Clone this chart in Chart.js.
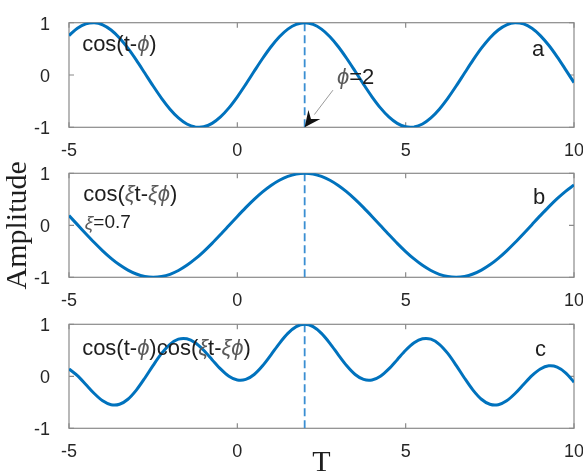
<!DOCTYPE html>
<html><head><meta charset="utf-8">
<script src="https://cdn.jsdelivr.net/npm/chart.js@4.4.1/dist/chart.umd.min.js"></script>
<style>
html,body{margin:0;padding:0;background:#fff;}
#wrap{position:relative;width:583px;height:473px;overflow:hidden;background:#fff;}
canvas{position:absolute;left:0;top:0;}
</style></head><body>
<div id="wrap">
<canvas id="ca" width="583" height="473"></canvas>
<canvas id="cb" width="583" height="473"></canvas>
<canvas id="cc" width="583" height="473"></canvas>
</div>
<script>
// ---- data ----
const tValues = [-5,-4.75,-4.5,-4.25,-4,-3.75,-3.5,-3.25,-3,-2.75,-2.5,-2.25,-2,-1.75,-1.5,-1.25,-1,-0.75,-0.5,-0.25,0,0.25,0.5,0.75,1,1.25,1.5,1.75,2,2.25,2.5,2.75,3,3.25,3.5,3.75,4,4.25,4.5,4.75,5,5.25,5.5,5.75,6,6.25,6.5,6.75,7,7.25,7.5,7.75,8,8.25,8.5,8.75,9,9.25,9.5,9.75,10];
const seriesA = [0.7539,0.8930,0.9766,0.9994,0.9602,0.8612,0.7087,0.5121,0.2837,0.0376,-0.2108,-0.4461,-0.6536,-0.8206,-0.9365,-0.9941,-0.9900,-0.9243,-0.8011,-0.6282,-0.4161,-0.1782,0.0707,0.3153,0.5403,0.7317,0.8776,0.9689,1.0000,0.9689,0.8776,0.7317,0.5403,0.3153,0.0707,-0.1782,-0.4161,-0.6282,-0.8011,-0.9243,-0.9900,-0.9941,-0.9365,-0.8206,-0.6536,-0.4461,-0.2108,0.0376,0.2837,0.5121,0.7087,0.8612,0.9602,0.9994,0.9766,0.8930,0.7539,0.5679,0.3466,0.1038,-0.1455];
const seriesB = [0.1865,0.0126,-0.1617,-0.3310,-0.4903,-0.6346,-0.7594,-0.8611,-0.9365,-0.9832,-1.0000,-0.9862,-0.9422,-0.8695,-0.7702,-0.6474,-0.5048,-0.3468,-0.1782,-0.0042,0.1700,0.3389,0.4976,0.6410,0.7648,0.8653,0.9394,0.9847,1.0000,0.9847,0.9394,0.8653,0.7648,0.6410,0.4976,0.3389,0.1700,-0.0042,-0.1782,-0.3468,-0.5048,-0.6474,-0.7702,-0.8695,-0.9422,-0.9862,-1.0000,-0.9832,-0.9365,-0.8611,-0.7594,-0.6346,-0.4903,-0.3310,-0.1617,0.0126,0.1865,0.3547,0.5121,0.6538,0.7756];
const seriesC = [0.1406,0.0113,-0.1579,-0.3308,-0.4708,-0.5465,-0.5382,-0.4410,-0.2657,-0.0370,0.2108,0.4399,0.6158,0.7135,0.7213,0.6436,0.4998,0.3205,0.1428,0.0026,-0.0707,-0.0604,0.0352,0.2021,0.4132,0.6331,0.8244,0.9541,1.0000,0.9541,0.8244,0.6331,0.4132,0.2021,0.0352,-0.0604,-0.0707,0.0026,0.1428,0.3205,0.4998,0.6436,0.7213,0.7135,0.6158,0.4399,0.2108,-0.0370,-0.2657,-0.4410,-0.5382,-0.5465,-0.4708,-0.3308,-0.1579,0.0113,0.1406,0.2014,0.1775,0.0679,-0.1128];
const xTicks = [-5, 0, 5, 10];
const yTicks = [-1, 0, 1];
const phi = 2;
const phiLineY = [-1, 1];

// ---- styling ----
const SANS = '"Liberation Sans", Arial, sans-serif';
const SERIF = '"Liberation Serif", "Times New Roman", serif';
Chart.defaults.font.family = SANS;
Chart.defaults.animation = false;
const BLUE = '#0072BD';
const FRAME = '#8a8a8a';
const TXT = '#1e1e1e';
const GREEK = '#5a5a5a';

function pts(ys) { return tValues.map((t, i) => ({x: t, y: ys[i]})); }

function drawParts(ctx, x, y, parts, size) {
  let cx = x;
  ctx.textBaseline = 'middle';
  ctx.textAlign = 'left';
  parts.forEach(p => {
    ctx.font = (p.g ? 'italic ' : '') + size + 'px ' + SANS;
    ctx.fillStyle = p.g ? GREEK : TXT;
    ctx.fillText(p.s, cx, y);
    cx += ctx.measureText(p.s).width;
  });
}

function framePlugin(notes, arrow) {
  return {
    id: 'frameNotes',
    beforeDatasetsDraw(chart) {
      const {ctx, chartArea: a, scales: {x, y}} = chart;
      ctx.save();
      ctx.strokeStyle = FRAME; ctx.lineWidth = 1.2;
      ctx.strokeRect(a.left, a.top, a.right - a.left, a.bottom - a.top);
      ctx.beginPath();
      xTicks.forEach(v => {
        const px = x.getPixelForValue(v);
        ctx.moveTo(px, a.top); ctx.lineTo(px, a.top + 5);
        ctx.moveTo(px, a.bottom); ctx.lineTo(px, a.bottom - 5);
      });
      yTicks.forEach(v => {
        const py = y.getPixelForValue(v);
        ctx.moveTo(a.left, py); ctx.lineTo(a.left + 5, py);
        ctx.moveTo(a.right, py); ctx.lineTo(a.right - 5, py);
      });
      ctx.stroke();
      ctx.restore();
    },
    afterDraw(chart) {
      const {ctx, scales: {x, y}} = chart;
      ctx.save();
      notes.forEach(n => drawParts(ctx, x.getPixelForValue(n.x), y.getPixelForValue(n.y), n.parts, n.size));
      if (arrow) {
        const x0 = x.getPixelForValue(arrow.from[0]), y0 = y.getPixelForValue(arrow.from[1]);
        const x1 = x.getPixelForValue(arrow.to[0]), y1 = y.getPixelForValue(arrow.to[1]);
        const ang = Math.atan2(y1 - y0, x1 - x0);
        const L = 16, W = 7.5;
        const bx = x1 - L * Math.cos(ang), by = y1 - L * Math.sin(ang);
        ctx.strokeStyle = '#9a9a9a'; ctx.lineWidth = 1;
        ctx.beginPath(); ctx.moveTo(x0, y0); ctx.lineTo(bx, by); ctx.stroke();
        const nx = -Math.sin(ang), ny = Math.cos(ang);
        const mx = x1 - L * 0.65 * Math.cos(ang), my = y1 - L * 0.65 * Math.sin(ang);
        ctx.fillStyle = '#111';
        ctx.beginPath();
        ctx.moveTo(x1, y1);
        ctx.lineTo(bx + nx * W, by + ny * W);
        ctx.lineTo(mx, my);
        ctx.lineTo(bx - nx * W, by - ny * W);
        ctx.closePath(); ctx.fill();
      }
      ctx.restore();
    }
  };
}

function makeChart(id, series, cfg) {
  return new Chart(document.getElementById(id), {
    type: 'line',
    data: {
      datasets: [
        {data: pts(series), borderColor: BLUE, borderWidth: 3, pointRadius: 0, tension: 0.3, fill: false},
        {data: phiLineY.map(v => ({x: phi, y: v})), borderColor: '#3a8ed2', borderWidth: 1.8, borderDash: [8, 4], pointRadius: 0, fill: false}
      ]
    },
    options: {
      responsive: false,
      devicePixelRatio: 1,
      events: [],
      layout: {padding: cfg.padding},
      plugins: {legend: {display: false}, tooltip: {enabled: false}},
      scales: {
        x: {
          type: 'linear', min: -5, max: 10,
          grid: {display: false}, border: {display: false},
          afterBuildTicks: s => { s.ticks = xTicks.map(v => ({value: v})); },
          afterFit: s => { s.height = cfg.xh; s.paddingLeft = 0; s.paddingRight = 0; },
          ticks: {font: {size: 18}, color: '#262626', padding: 5, maxRotation: 0, autoSkip: false},
          title: cfg.xTitle || {display: false}
        },
        y: {
          type: 'linear', min: -1, max: 1,
          grid: {display: false}, border: {display: false},
          afterBuildTicks: s => { s.ticks = yTicks.map(v => ({value: v})); },
          afterFit: s => { s.width = 69; s.paddingTop = 0; s.paddingBottom = 0; },
          ticks: {font: {size: 18}, color: '#262626', padding: 11, labelOffset: 2},
          title: cfg.yTitle || {display: false}
        }
      }
    },
    plugins: [framePlugin(cfg.notes, cfg.arrow)]
  });
}

makeChart('ca', seriesA, {
  padding: {left: 0, right: 9, top: 22.7, bottom: 305.7},
  xh: 40,
  notes: [
    {x: -4.61, y: 0.57, size: 22, parts: [{s: 'cos(t-'}, {s: 'ϕ', g: true}, {s: ')'}]},
    {x: 8.75, y: 0.48, size: 22, parts: [{s: 'a'}]},
    {x: 2.96, y: -0.06, size: 22, parts: [{s: 'ϕ', g: true}, {s: '=2'}]}
  ],
  arrow: {from: [2.84, -0.29], to: [2, -1]}
});

makeChart('cb', seriesB, {
  padding: {left: 0, right: 9, top: 173.3, bottom: 155.7},
  xh: 40,
  yTitle: {display: true, text: 'Amplitude', color: TXT, font: {family: SERIF, size: 30}, padding: {top: 0, bottom: 0}},
  notes: [
    {x: -4.58, y: 0.58, size: 22, parts: [{s: 'cos('}, {s: 'ξ', g: true}, {s: 't-'}, {s: 'ξϕ', g: true}, {s: ')'}]},
    {x: -4.53, y: 0.04, size: 19, parts: [{s: 'ξ', g: true}, {s: '=0.7'}]},
    {x: 8.78, y: 0.52, size: 22, parts: [{s: 'b'}]}
  ]
});

makeChart('cc', seriesC, {
  padding: {left: 0, right: 9, top: 324.3, bottom: 0},
  xh: 44.7,
  xTitle: {display: true, text: 'T', color: TXT, font: {family: SERIF, size: 30}, padding: {top: 0, bottom: -8}},
  notes: [
    {x: -4.61, y: 0.52, size: 22, parts: [{s: 'cos(t-'}, {s: 'ϕ', g: true}, {s: ')cos('}, {s: 'ξ', g: true}, {s: 't-'}, {s: 'ξϕ', g: true}, {s: ')'}]},
    {x: 8.84, y: 0.5, size: 22, parts: [{s: 'c'}]}
  ]
});
</script>
</body></html>
